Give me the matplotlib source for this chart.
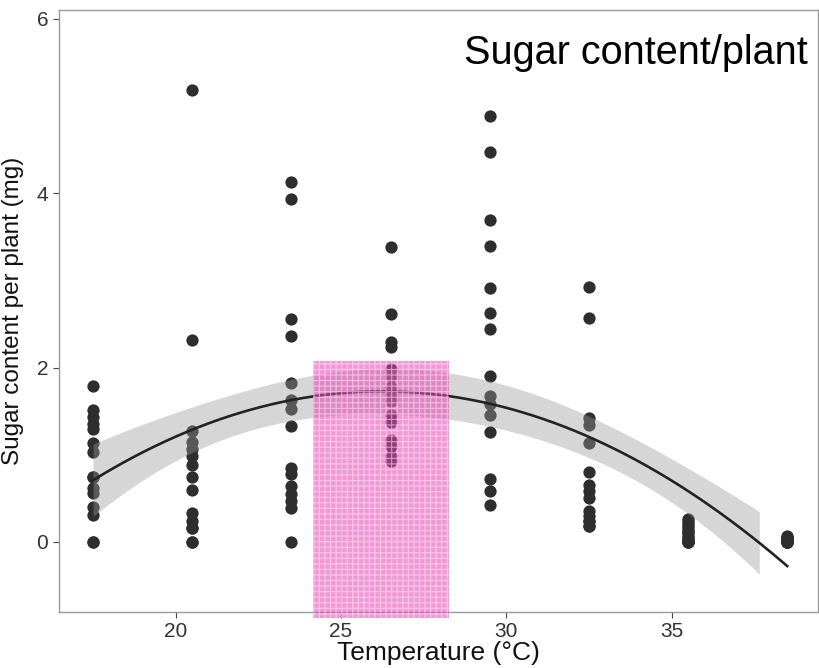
import numpy as np
import matplotlib.pyplot as plt
from matplotlib.patches import Rectangle

plt.rcParams['font.family'] = ['Liberation Sans', 'DejaVu Sans']
plt.rcParams['hatch.linewidth'] = 0.8

# temperature of each group and the sugar values
# (15 plants per temperature, some dots hide behind each other)
temps = [17.5, 20.5, 23.5, 26.5, 29.5, 32.5, 35.5, 38.5]
sugar_175 = [1.79, 1.51, 1.43, 1.35, 1.29, 1.13, 1.03, 0.74, 0.74, 0.62, 0.56, 0.40, 0.31, 0.0, 0.0]
sugar_205 = [5.18, 2.32, 1.27, 1.15, 1.07, 0.99, 0.88, 0.74, 0.60, 0.33, 0.24, 0.16, 0.16, 0.0, 0.0]
sugar_235 = [4.13, 3.93, 2.56, 2.36, 1.82, 1.63, 1.53, 1.33, 0.85, 0.78, 0.64, 0.55, 0.47, 0.39, 0.0]
sugar_265 = [3.38, 2.61, 2.29, 2.24, 1.98, 1.90, 1.78, 1.68, 1.62, 1.45, 1.37, 1.17, 1.10, 0.98, 0.93]
sugar_295 = [4.89, 4.47, 3.69, 3.39, 2.91, 2.63, 2.44, 1.90, 1.67, 1.58, 1.45, 1.26, 0.72, 0.58, 0.42]
sugar_325 = [2.92, 2.57, 1.42, 1.34, 1.13, 0.80, 0.65, 0.58, 0.50, 0.36, 0.30, 0.24, 0.24, 0.18, 0.18]
sugar_355 = [0.26, 0.24, 0.21, 0.18, 0.16, 0.13, 0.11, 0.09, 0.06, 0.04, 0.02, 0.01, 0.0, 0.0, 0.0]
sugar_385 = [0.07, 0.06, 0.05, 0.04, 0.03, 0.02, 0.02, 0.01, 0.01, 0.0, 0.0, 0.0, 0.0, 0.0, 0.0]

# optimum temperature window (pink box)
opt_low, opt_high = 24.17, 28.28
opt_top, opt_bottom = 2.08, -0.87
band_end = 37.7


def main():
    groups = [sugar_175, sugar_205, sugar_235, sugar_265,
              sugar_295, sugar_325, sugar_355, sugar_385]
    x = np.concatenate([[t] * len(g) for t, g in zip(temps, groups)])
    y = np.concatenate(groups)

    # quadratic fit with 95% confidence band (like geom_smooth y ~ poly(x, 2))
    X = np.column_stack([np.ones_like(x), x, x ** 2])
    beta = np.linalg.lstsq(X, y, rcond=None)[0]
    resid = y - X @ beta
    s2 = np.sum(resid ** 2) / (len(y) - 3)
    cov = s2 * np.linalg.inv(X.T @ X)
    xg = np.linspace(temps[0], temps[-1], 200)
    Xg = np.column_stack([np.ones_like(xg), xg, xg ** 2])
    fit = Xg @ beta
    se = np.sqrt(np.sum((Xg @ cov) * Xg, axis=1))
    lo, hi = fit - 1.98 * se, fit + 1.98 * se

    fig = plt.figure(figsize=(8.2, 6.68), dpi=100)
    ax = fig.add_axes([0.0715, 0.0843, 0.926, 0.9007])

    ax.scatter(x, y, s=78, color='#2e2e2e', linewidths=0, zorder=2)
    m = xg <= band_end
    ax.fill_between(xg[m], lo[m], hi[m], color='#999999', alpha=0.4, linewidth=0, zorder=3)
    ax.plot(xg, fit, color='#222222', linewidth=1.9, zorder=4)

    rect = Rectangle((opt_low, opt_bottom), opt_high - opt_low, opt_top - opt_bottom,
                     facecolor='#e645b4', edgecolor='#ffeefa', hatch='+++',
                     alpha=0.55, linewidth=0, clip_on=False, zorder=5)
    ax.add_patch(rect)

    ax.set_xlim(16.46, 39.43)
    ax.set_ylim(-0.80, 6.1)
    ax.set_xticks([20, 25, 30, 35])
    ax.set_yticks([0, 2, 4, 6])
    ax.tick_params(colors='#444444', labelsize=15, length=4, width=0.8,
                   labelcolor='#333333')
    for sp in ax.spines.values():
        sp.set_color('#999999')
        sp.set_linewidth(1)

    ax.set_xlabel('Temperature (°C)', fontsize=19, color='#111111', labelpad=0)
    ax.set_ylabel('Sugar content per plant (mg)', fontsize=17.5, color='#111111', labelpad=9)
    ax.text(0.987, 0.928, 'Sugar content/plant', transform=ax.transAxes,
            ha='right', va='center', fontsize=28.5, color='black')

    fig.savefig('out.png', dpi=100)


if __name__ == '__main__':
    main()
